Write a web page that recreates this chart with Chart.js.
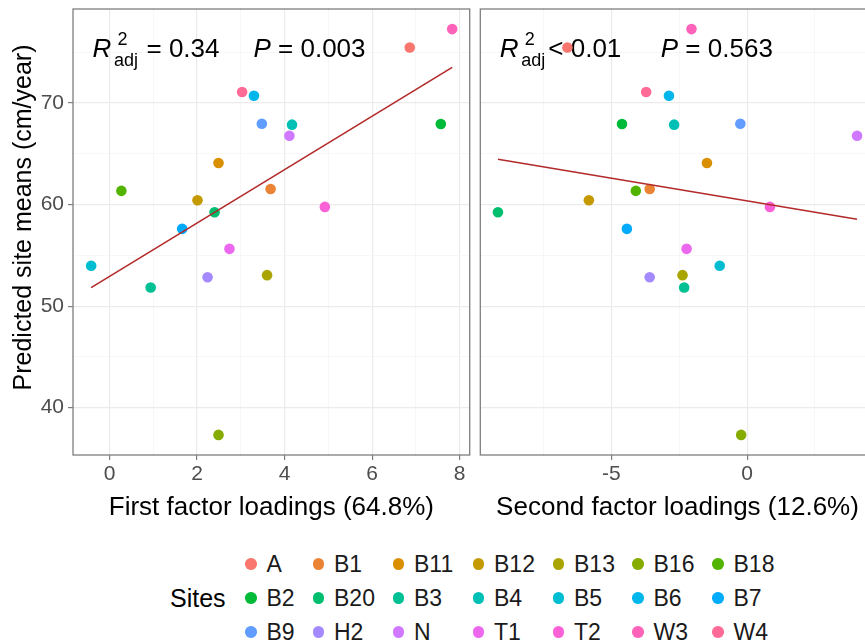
<!DOCTYPE html>
<html>
<head>
<meta charset="utf-8">
<script src="https://cdn.jsdelivr.net/npm/chart.js@4.4.1/dist/chart.umd.min.js"></script>
<style>
  html, body { margin: 0; padding: 0; background: #fff; overflow: hidden; }
  #wrap { position: relative; width: 865px; height: 644px; overflow: hidden; font-family: "Liberation Sans", Arial, sans-serif; }
  #c1 { position: absolute; left: 0; top: 0; }
  #c2 { position: absolute; left: 475px; top: 0; }
  #sitesTitle { position: absolute; left: 170px; top: 583px; font-size: 25px; line-height: 30px; color: #000; }
  #legend { position: absolute; left: 245px; top: 547px; display: grid;
    grid-template-columns: 67.5px 80px 80px 80px 79.5px 80px 100px; grid-auto-rows: 34px; }
  .item { display: flex; align-items: center; font-size: 23px; color: #1a1a1a; }
  .dot { width: 11.5px; height: 11.5px; border-radius: 50%; margin-right: 10px; flex: none; }
</style>
</head>
<body>
<div id="wrap">
  <canvas id="c1" width="475" height="530"></canvas>
  <canvas id="c2" width="405" height="530"></canvas>
  <div id="sitesTitle">Sites</div>
  <div id="legend"></div>
</div>
<script>
// sites in legend order
const sites = ['A', 'B1', 'B11', 'B12', 'B13', 'B16', 'B18',
               'B2', 'B20', 'B3', 'B4', 'B5', 'B6', 'B7',
               'B9', 'H2', 'N', 'T1', 'T2', 'W3', 'W4'];
const siteMeans = [75.47, 61.54, 64.10, 60.42, 53.05, 37.32, 61.35,
                   67.93, 59.24, 51.84, 67.87, 53.97, 70.72, 57.61,
                   67.96, 52.85, 66.78, 55.64, 59.77, 77.28, 71.08];
const firstLoadings = [6.86, 3.68, 2.49, 2.01, 3.60, 2.49, 0.27,
                       7.57, 2.40, 0.94, 4.17, -0.42, 3.30, 1.66,
                       3.48, 2.24, 4.11, 2.74, 4.92, 7.83, 3.03];
const secondLoadings = [-6.62, -3.59, -1.48, -5.83, -2.38, -0.22, -4.10,
                        -4.61, -9.18, -2.32, -2.69, -1.01, -2.88, -4.43,
                        -0.25, -3.59, 4.05, -2.23, 0.84, -2.05, -3.72];
const yTickLabels = [40, 50, 60, 70];
const firstTickLabels = [0, 2, 4, 6, 8];
const secondTickLabels = [-5, 0];

// ggplot2 default hue palette
function hcl(h, c, l) {
  const rad = h * Math.PI / 180;
  const U = c * Math.cos(rad), V = c * Math.sin(rad);
  const Y = 100 * Math.pow((l + 16) / 116, 3);
  const u = U / (13 * l) + 0.1978398, v = V / (13 * l) + 0.4683363;
  const X = 9 * Y * u / (4 * v);
  const Z = -X / 3 - 5 * Y + 3 * Y / v;
  const g = t => {
    t = t > 0.00304 ? 1.055 * Math.pow(t, 1 / 2.4) - 0.055 : 12.92 * t;
    return Math.round(Math.max(0, Math.min(1, t)) * 255);
  };
  const r = g((3.240479 * X - 1.537150 * Y - 0.498535 * Z) / 100);
  const gg = g((-0.969256 * X + 1.875992 * Y + 0.041556 * Z) / 100);
  const b = g((0.055648 * X - 0.204043 * Y + 1.057311 * Z) / 100);
  return `rgb(${r}, ${gg}, ${b})`;
}
const colors = sites.map((s, i) => hcl(15 + i * 360 / sites.length, 100, 65));

function fitLine(xs, ys) {
  const n = xs.length;
  const mx = xs.reduce((a, b) => a + b, 0) / n;
  const my = ys.reduce((a, b) => a + b, 0) / n;
  let sxy = 0, sxx = 0;
  xs.forEach((x, i) => { sxy += (x - mx) * (ys[i] - my); sxx += (x - mx) * (x - mx); });
  const slope = sxy / sxx;
  const lo = Math.min(...xs), hi = Math.max(...xs);
  return [{ x: lo, y: my + slope * (lo - mx) }, { x: hi, y: my + slope * (hi - mx) }];
}

const FONT = '"Liberation Sans", Arial, sans-serif';
const GRID_MAJOR = '#ebebeb';
const GRID_MINOR = '#f4f4f4';

// stats label + y title under the points, panel border on top
const panelDeco = {
  id: 'panelDeco',
  beforeDatasetsDraw(chart, args, opts) {
    const { ctx, chartArea: a } = chart;
    ctx.save();
    ctx.fillStyle = '#000';
    ctx.textBaseline = 'alphabetic';
    ctx.textAlign = 'left';
    const x0 = a.left, base = a.top + 48;
    ctx.font = `italic 26px ${FONT}`;
    ctx.fillText('R', x0 + 19.5, base);
    ctx.font = `18px ${FONT}`;
    ctx.fillText('2', x0 + 44.5, base - 12);
    ctx.fillText('adj', x0 + 41, base + 9);
    ctx.font = `26px ${FONT}`;
    ctx.fillText(opts.r2, x0 + opts.relX, base);
    ctx.font = `italic 26px ${FONT}`;
    ctx.fillText('P', x0 + 180.5, base);
    const pw = ctx.measureText('P').width;
    ctx.font = `26px ${FONT}`;
    ctx.fillText(' = ' + opts.p, x0 + 180.5 + pw, base);
    if (opts.yTitle) {
      ctx.translate(24.5, 217.5);
      ctx.rotate(-Math.PI / 2);
      ctx.textAlign = 'center';
      ctx.textBaseline = 'middle';
      ctx.font = `25px ${FONT}`;
      ctx.fillText(opts.yTitle, 0, 0);
    }
    ctx.restore();
  },
  afterDraw(chart) {
    const { ctx, chartArea: a } = chart;
    ctx.save();
    ctx.strokeStyle = '#7f7f7f';
    ctx.lineWidth = 1.3;
    ctx.strokeRect(a.left, a.top, a.right - a.left, a.bottom - a.top);
    ctx.restore();
  }
};

function gridScale(labels) {
  return {
    color: c => labels.includes(c.tick.value) ? GRID_MAJOR : GRID_MINOR,
    lineWidth: c => labels.includes(c.tick.value) ? 1.2 : 0.7,
    tickColor: c => labels.includes(c.tick.value) ? '#7f7f7f' : 'rgba(0,0,0,0)',
    tickLength: 5,
    tickWidth: 1.2
  };
}

function panel(canvasId, xs, xMin, xMax, xStep, xLabels, title, deco, isLeft) {
  return new Chart(document.getElementById(canvasId), {
    type: 'scatter',
    data: {
      datasets: [{
        type: 'line',
        data: fitLine(xs, siteMeans),
        borderColor: '#b22a2a',
        borderWidth: 1.6,
        pointRadius: 0,
        fill: false
      }, {
        data: sites.map((s, i) => ({ x: xs[i], y: siteMeans[i] })),
        pointBackgroundColor: colors,
        pointBorderWidth: 0,
        pointRadius: 5.3
      }]
    },
    options: {
      responsive: false,
      animation: false,
      events: [],
      layout: { padding: { top: 9, right: isLeft ? 5 : 4, left: 0, bottom: 0 } },
      plugins: {
        legend: { display: false },
        tooltip: { enabled: false },
        panelDeco: deco
      },
      scales: {
        x: {
          type: 'linear',
          min: xMin,
          max: xMax,
          border: { display: false },
          grid: gridScale(xLabels),
          ticks: {
            stepSize: xStep,
            includeBounds: false,
            autoSkip: false,
            maxRotation: 0,
            padding: 2,
            color: '#4d4d4d',
            font: { size: 21, family: FONT },
            callback: v => xLabels.includes(v) ? String(v) : ''
          },
          title: {
            display: true,
            text: title,
            color: '#000',
            font: { size: 26, family: FONT },
            padding: { top: 0, bottom: 7 }
          },
          afterFit: s => { s.height = 75; s.paddingLeft = 0; s.paddingRight = 0; }
        },
        y: {
          type: 'linear',
          min: 35.34,
          max: 79.26,
          border: { display: false },
          grid: Object.assign(gridScale(yTickLabels), isLeft ? {} : { drawTicks: false }),
          ticks: {
            display: isLeft,
            stepSize: 5,
            includeBounds: false,
            padding: 4,
            color: '#4d4d4d',
            font: { size: 21, family: FONT },
            callback: v => yTickLabels.includes(v) ? String(v) : ''
          },
          afterFit: s => { s.width = isLeft ? 73 : 4; s.paddingTop = 0; s.paddingBottom = 0; }
        }
      }
    },
    plugins: [panelDeco]
  });
}

panel('c1', firstLoadings, -0.835, 8.23, 1, firstTickLabels,
      'First factor loadings (64.8%)',
      { r2: '= 0.34', relX: 73.5, p: '0.003', yTitle: 'Predicted site means (cm/year)' }, true);
panel('c2', secondLoadings, -9.83, 4.70, 2.5, secondTickLabels,
      'Second factor loadings (12.6%)',
      { r2: '< 0.01', relX: 68, p: '0.563' }, false);

// legend
const legend = document.getElementById('legend');
sites.forEach((s, i) => {
  const item = document.createElement('div');
  item.className = 'item';
  item.innerHTML = `<span class="dot" style="background:${colors[i]}"></span><span>${s}</span>`;
  legend.appendChild(item);
});
</script>
</body>
</html>
